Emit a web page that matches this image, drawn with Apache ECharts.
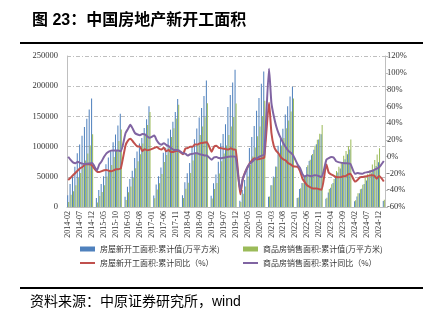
<!DOCTYPE html>
<html><head><meta charset="utf-8">
<script src="https://cdn.jsdelivr.net/npm/echarts@6/dist/echarts.min.js"></script>
<style>html,body{margin:0;padding:0;background:#fff;}#c{width:441px;height:329px;}</style>
</head><body><div id="c"></div>
<script>
// x categories: monthly 2014-02 .. 2025-02 (January has no data)
const categories = [];
for (let y = 2014; y <= 2025; y++) {
  for (let m = 1; m <= 12; m++) {
    if (y === 2014 && m < 2) continue;
    if (y === 2025 && m > 2) break;
    categories.push(y + '-' + (m < 10 ? '0' + m : m));
  }
}

const seriesNames = [
  '房屋新开工面积:累计值(万平方米)',
  '商品房销售面积:累计值(万平方米)',
  '房屋新开工面积:累计同比（%）',
  '商品房销售面积:累计同比（%）'
];

// 房屋新开工面积 累计值 (万平方米)
const newStartCum = [
  19398, 38047, 50682, 66717, 89003, 103291, 117814, 132624, 146054, 161434, 179592,
  null, 15031, 28009, 38157, 50797, 70589, 81891, 93766, 107017, 120025, 135091, 154454,
  null, 17090, 33380, 46310, 60130, 81110, 91880, 105200, 114080, 130700, 145360, 166928,
  null, 18870, 37250, 50800, 65240, 89710, 97940, 113510, 128000, 141000, 157160, 178654,
  null, 19420, 40860, 56030, 72940, 100300, 112040, 129850, 148350, 163980, 183570, 209342,
  null, 18814, 39405, 54006, 75124, 105509, 120880, 136798, 165707, 185634, 206214, 227154,
  null, 10370, 28173, 44712, 62541, 97536, 116049, 134003, 159228, 180560, 204077, 224433,
  null, 17013, 36163, 50436, 66856, 101208, 115005, 129715, 152944, 166736, 182820, 198895,
  null, 15000, 29638, 39739, 51628, 66423, 76357, 85838, 94767, 103722, 111632, 120587,
  null, 13567, 24121, 31948, 39723, 49880, 56969, 63891, 72123, 79177, 87456, 95376,
  null, 9429, 17338, 22882, 30090, 38023, 43731, 49876, 56051, 61227, 67709, 73893,
  null, 9996
];

// 商品房销售面积 累计值 (万平方米)
const salesCum = [
  8287, 20110, 26170, 36080, 48400, 56400, 64980, 77050, 88550, 101740, 120649,
  null, 7500, 18260, 24760, 36010, 50290, 59840, 69660, 82830, 94920, 109270, 128495,
  null, 11510, 24310, 34140, 47970, 64320, 75640, 87420, 105110, 120360, 135820, 157349,
  null, 14400, 29050, 39500, 54830, 74680, 86230, 98520, 115940, 130230, 146550, 169408,
  null, 15000, 30100, 40030, 56420, 77143, 89850, 102460, 119300, 133100, 148600, 171654,
  null, 14102, 29829, 39907, 55518, 75786, 88680, 101849, 119179, 133251, 148905, 171558,
  null, 8475, 21978, 33973, 50526, 69404, 83683, 98486, 117073, 133300, 150840, 176086,
  null, 17363, 36007, 48703, 66646, 88635, 101747, 114193, 130332, 143041, 158010, 179433,
  null, 15703, 31046, 39768, 50738, 68923, 78178, 87890, 101422, 111179, 121250, 135837,
  null, 15133, 29946, 37636, 46440, 59515, 66563, 73949, 84806, 92579, 100509, 111735,
  null, 11369, 22668, 29252, 36642, 47916, 54150, 60649, 70284, 77930, 86717, 97385,
  null, 12106
];

// 房屋新开工面积 累计同比 (%)
const newStartYoY = [
  -27.8, -25.2, -22.1, -19.4, -16.4, -13.8, -12.4, -9.3, -8.9, -9.0, -10.7,
  null, -17.7, -18.4, -17.3, -16.1, -15.8, -16.8, -17.4, -16.3, -15.0, -14.9, -14.0,
  null, 13.7, 19.2, 21.4, 18.4, 14.9, 12.2, 12.2, 6.6, 8.9, 7.6, 8.1,
  null, 10.4, 11.6, 9.7, 8.5, 10.6, 6.6, 7.9, 5.6, 5.6, 6.7, 7.0,
  null, 2.9, 9.7, 10.3, 11.8, 11.8, 14.4, 14.4, 15.9, 16.3, 16.8, 17.2,
  null, 6.0, 11.9, 13.1, 10.5, 10.1, 9.5, 8.9, 8.6, 10.0, 8.6, 8.5,
  null, -44.9, -27.2, -18.4, -12.8, -7.6, -3.9, -1.9, -3.4, -2.7, -2.0, -1.2,
  null, 64.3, 28.2, 12.8, 6.9, 3.8, -0.9, -3.2, -4.5, -7.7, -9.1, -11.4,
  null, -12.2, -17.5, -26.3, -30.6, -34.4, -36.1, -37.7, -38.0, -37.8, -38.9, -39.4,
  null, -9.4, -19.2, -21.2, -22.6, -24.3, -24.5, -24.4, -23.4, -23.2, -21.2, -20.4,
  null, -29.7, -27.8, -24.6, -24.2, -23.7, -23.2, -22.5, -22.2, -22.6, -26.2, -23.0,
  null, -29.6
];

// 商品房销售面积 累计同比 (%)
const salesYoY = [
  -0.1, -3.8, -6.8, -7.8, -6.0, -7.6, -8.3, -8.6, -8.3, -8.2, -7.6,
  null, -16.3, -9.2, -5.4, -0.2, 3.9, 6.1, 7.2, 7.5, 7.2, 7.4, 6.5,
  null, 28.2, 33.1, 37.9, 33.2, 27.9, 26.4, 25.5, 26.9, 26.8, 24.3, 22.5,
  null, 25.1, 19.5, 15.7, 14.3, 16.1, 14.0, 12.7, 10.3, 8.2, 7.9, 7.7,
  null, 4.1, 3.6, 1.3, 2.9, 3.3, 4.2, 4.0, 2.9, 2.2, 1.4, 1.3,
  null, -3.6, -0.9, -0.3, -1.6, -1.8, -1.3, -0.6, -0.1, 0.1, 0.2, -0.1,
  null, -39.9, -26.3, -19.3, -12.3, -8.4, -5.8, -3.3, -1.8, 0.0, 1.3, 2.6,
  null, 104.9, 63.8, 48.1, 36.3, 27.7, 21.5, 15.9, 11.3, 7.2, 4.8, 1.9,
  null, -9.6, -13.8, -20.9, -23.6, -22.2, -23.1, -23.0, -22.2, -22.3, -23.3, -24.3,
  null, -3.6, -1.8, -0.4, -0.9, -5.3, -6.5, -7.1, -7.5, -7.8, -8.0, -8.5,
  null, -20.5, -19.4, -20.2, -20.3, -19.0, -18.6, -18.0, -17.1, -15.8, -14.3, -12.9,
  null, -5.1
];

const titleText = '图 23：中国房地产新开工面积';
const sourceText = '资料来源：中原证券研究所，wind';

const axisFont = 'Liberation Serif';
const cjkFont = '"Noto Sans CJK SC"';
const legendText = {fontSize: 8, fontFamily: 'Noto Sans CJK SC', color: '#333'};

const chart = echarts.init(document.getElementById('c'), null, {renderer: 'canvas'});
chart.setOption({
  animation: false,
  backgroundColor: '#fff',
  grid: {left: 67, right: 56, top: 56, bottom: 122},
  xAxis: {
    type: 'category', data: categories, boundaryGap: true,
    axisLine: {lineStyle: {color: '#BFBFBF', width: 1}},
    axisTick: {show: false},
    axisLabel: {interval: 4, rotate: 90, fontSize: 8, fontFamily: axisFont, color: '#333', margin: 4}
  },
  yAxis: [
    {
      type: 'value', min: 0, max: 250000, interval: 50000,
      axisLine: {show: true, lineStyle: {color: '#BFBFBF'}},
      axisTick: {show: false},
      axisLabel: {fontSize: 8.5, fontFamily: axisFont, color: '#333', margin: 9, formatter: function (v) { return String(v); }},
      splitLine: {show: true, lineStyle: {color: '#BFBFBF', type: [4, 2, 1, 2], width: 1}}
    },
    {
      type: 'value', min: -60, max: 120, interval: 20, position: 'right',
      axisLine: {show: true, lineStyle: {color: '#BFBFBF'}},
      axisTick: {show: true, length: 3, lineStyle: {color: '#BFBFBF'}},
      axisLabel: {fontSize: 8.5, fontFamily: axisFont, color: '#333', margin: 2, formatter: '{value}%'},
      splitLine: {show: false}
    }
  ],
  legend: [
    {data: [{name: seriesNames[0], icon: 'rect'}], left: 80, top: 245, padding: 0, itemWidth: 15, itemHeight: 5, textStyle: legendText},
    {data: [{name: seriesNames[1], icon: 'rect'}], left: 243, top: 245, padding: 0, itemWidth: 15, itemHeight: 5, textStyle: legendText},
    {data: [{name: seriesNames[2], icon: 'rect'}], left: 80, top: 259, padding: 0, itemWidth: 15, itemHeight: 2, textStyle: legendText},
    {data: [{name: seriesNames[3], icon: 'rect'}], left: 243, top: 259, padding: 0, itemWidth: 15, itemHeight: 2, textStyle: legendText}
  ],
  series: [
    {name: seriesNames[0], type: 'bar', data: newStartCum, yAxisIndex: 0, barGap: '0%', barCategoryGap: '15%', itemStyle: {color: '#4F81BD'}},
    {name: seriesNames[1], type: 'bar', data: salesCum, yAxisIndex: 0, barGap: '0%', barCategoryGap: '15%', itemStyle: {color: '#9BBB59'}},
    {name: seriesNames[2], type: 'line', data: newStartYoY, yAxisIndex: 1, connectNulls: true, symbol: 'none', smooth: 0.2, z: 5, lineStyle: {color: '#C0504D', width: 2}, itemStyle: {color: '#C0504D'}},
    {name: seriesNames[3], type: 'line', data: salesYoY, yAxisIndex: 1, connectNulls: true, symbol: 'none', smooth: 0.2, z: 6, lineStyle: {color: '#8064A2', width: 2}, itemStyle: {color: '#8064A2'}}
  ],
  graphic: [
    {type: 'text', x: 32, y: 21, style: {text: titleText, font: 'bold 16px "Liberation Sans", ' + cjkFont, fill: '#000', verticalAlign: 'middle', textVerticalAlign: 'middle'}},
    {type: 'rect', shape: {x: 20, y: 42, width: 403, height: 2}, style: {fill: '#000'}},
    {type: 'rect', shape: {x: 20, y: 287, width: 403, height: 2}, style: {fill: '#000'}},
    {type: 'text', x: 30, y: 302, style: {text: sourceText, font: '14px "Liberation Sans", ' + cjkFont, fill: '#000', verticalAlign: 'middle', textVerticalAlign: 'middle'}}
  ]
});
</script></body></html>
